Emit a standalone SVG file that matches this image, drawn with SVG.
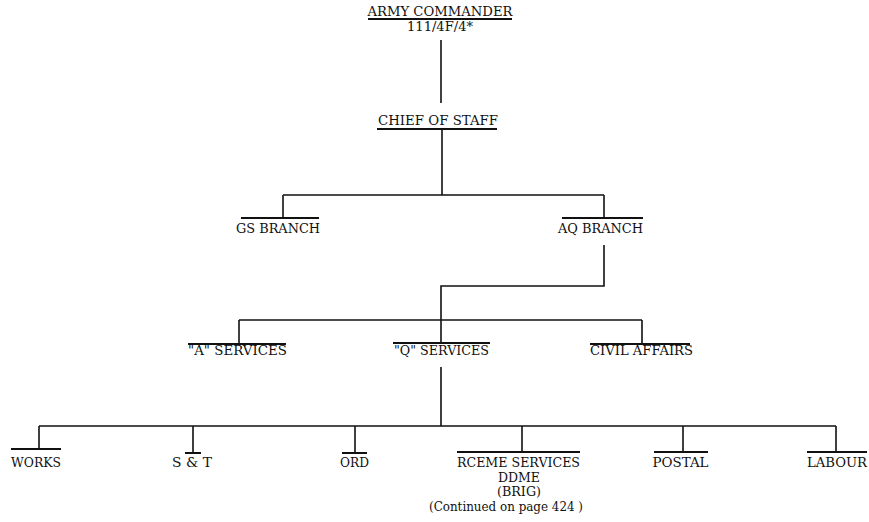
<svg xmlns="http://www.w3.org/2000/svg" width="869" height="522" viewBox="0 0 869 522">
<style>
text{font-family:"DejaVu Serif","Liberation Serif",serif;font-size:12.5px;fill:#111;}
.m{text-anchor:middle;}
.bar{stroke:#111;stroke-width:2;fill:none;}
.c{stroke:#111;stroke-width:1.6;fill:none;}
</style>
<rect width="869" height="522" fill="#fff"/>
<g id="connectors">
<path class="c" d="M441 40V103"/>
<path class="c" d="M442 129V195M283 195H604M283 195V218M604 195V218"/>
<path class="c" d="M604 245V286H441V343M239 320H642M239 320V344M642 320V344"/>
<path class="c" d="M441 367V426M39 426H836M39 426V449M193 426V453M355 426V453M522 426V452M683 426V452M836 426V452"/>
</g>
<g id="army-commander">
<text x="440" y="16" class="m" textLength="145" lengthAdjust="spacingAndGlyphs">ARMY COMMANDER</text>
<line class="bar" x1="368" y1="19" x2="512" y2="19"/>
<text x="440" y="31" class="m" textLength="66" lengthAdjust="spacingAndGlyphs">111/4F/4*</text>
</g>
<g id="chief-of-staff">
<text x="438" y="125" class="m" textLength="120" lengthAdjust="spacingAndGlyphs">CHIEF OF STAFF</text>
<line class="bar" x1="377" y1="129" x2="497" y2="129"/>
</g>
<g id="gs-branch">
<line class="bar" x1="241" y1="218" x2="319" y2="218"/>
<text x="278" y="233" class="m" textLength="84" lengthAdjust="spacingAndGlyphs">GS BRANCH</text>
</g>
<g id="aq-branch">
<line class="bar" x1="562" y1="218" x2="643" y2="218"/>
<text x="600.5" y="233" class="m" textLength="85" lengthAdjust="spacingAndGlyphs">AQ BRANCH</text>
</g>
<g id="a-services">
<line class="bar" x1="188" y1="344" x2="286" y2="344"/>
<text x="237.5" y="355" class="m" textLength="99" lengthAdjust="spacingAndGlyphs">"A" SERVICES</text>
</g>
<g id="q-services">
<line class="bar" x1="393" y1="343" x2="490" y2="343"/>
<text x="441.5" y="355" class="m" textLength="95" lengthAdjust="spacingAndGlyphs">"Q" SERVICES</text>
</g>
<g id="civil-affairs">
<line class="bar" x1="590" y1="344" x2="690" y2="344"/>
<text x="641.5" y="355" class="m" textLength="103" lengthAdjust="spacingAndGlyphs">CIVIL AFFAIRS</text>
</g>
<g id="works">
<line class="bar" x1="11" y1="449" x2="61" y2="449"/>
<text x="36" y="467" class="m" textLength="50" lengthAdjust="spacingAndGlyphs">WORKS</text>
</g>
<g id="s-and-t">
<line class="bar" x1="185" y1="453" x2="201" y2="453"/>
<text x="192" y="467" class="m" textLength="40" lengthAdjust="spacingAndGlyphs">S &amp; T</text>
</g>
<g id="ord">
<line class="bar" x1="342" y1="453" x2="367" y2="453"/>
<text x="354.5" y="467" class="m" textLength="29" lengthAdjust="spacingAndGlyphs">ORD</text>
</g>
<g id="rceme-services">
<line class="bar" x1="457" y1="452" x2="580" y2="452"/>
<text x="518.5" y="467" class="m" textLength="123" lengthAdjust="spacingAndGlyphs">RCEME SERVICES</text>
<text x="519" y="482" class="m" textLength="42" lengthAdjust="spacingAndGlyphs">DDME</text>
<text x="519" y="496" class="m" textLength="44" lengthAdjust="spacingAndGlyphs">(BRIG)</text>
<text x="506" y="511" class="m" textLength="154" lengthAdjust="spacingAndGlyphs">(Continued on page  424 )</text>
</g>
<g id="postal">
<line class="bar" x1="654" y1="452" x2="708" y2="452"/>
<text x="680.5" y="467" class="m" textLength="56" lengthAdjust="spacingAndGlyphs">POSTAL</text>
</g>
<g id="labour">
<line class="bar" x1="807" y1="452" x2="867" y2="452"/>
<text x="837" y="467" class="m" textLength="60" lengthAdjust="spacingAndGlyphs">LABOUR</text>
</g>
</svg>
